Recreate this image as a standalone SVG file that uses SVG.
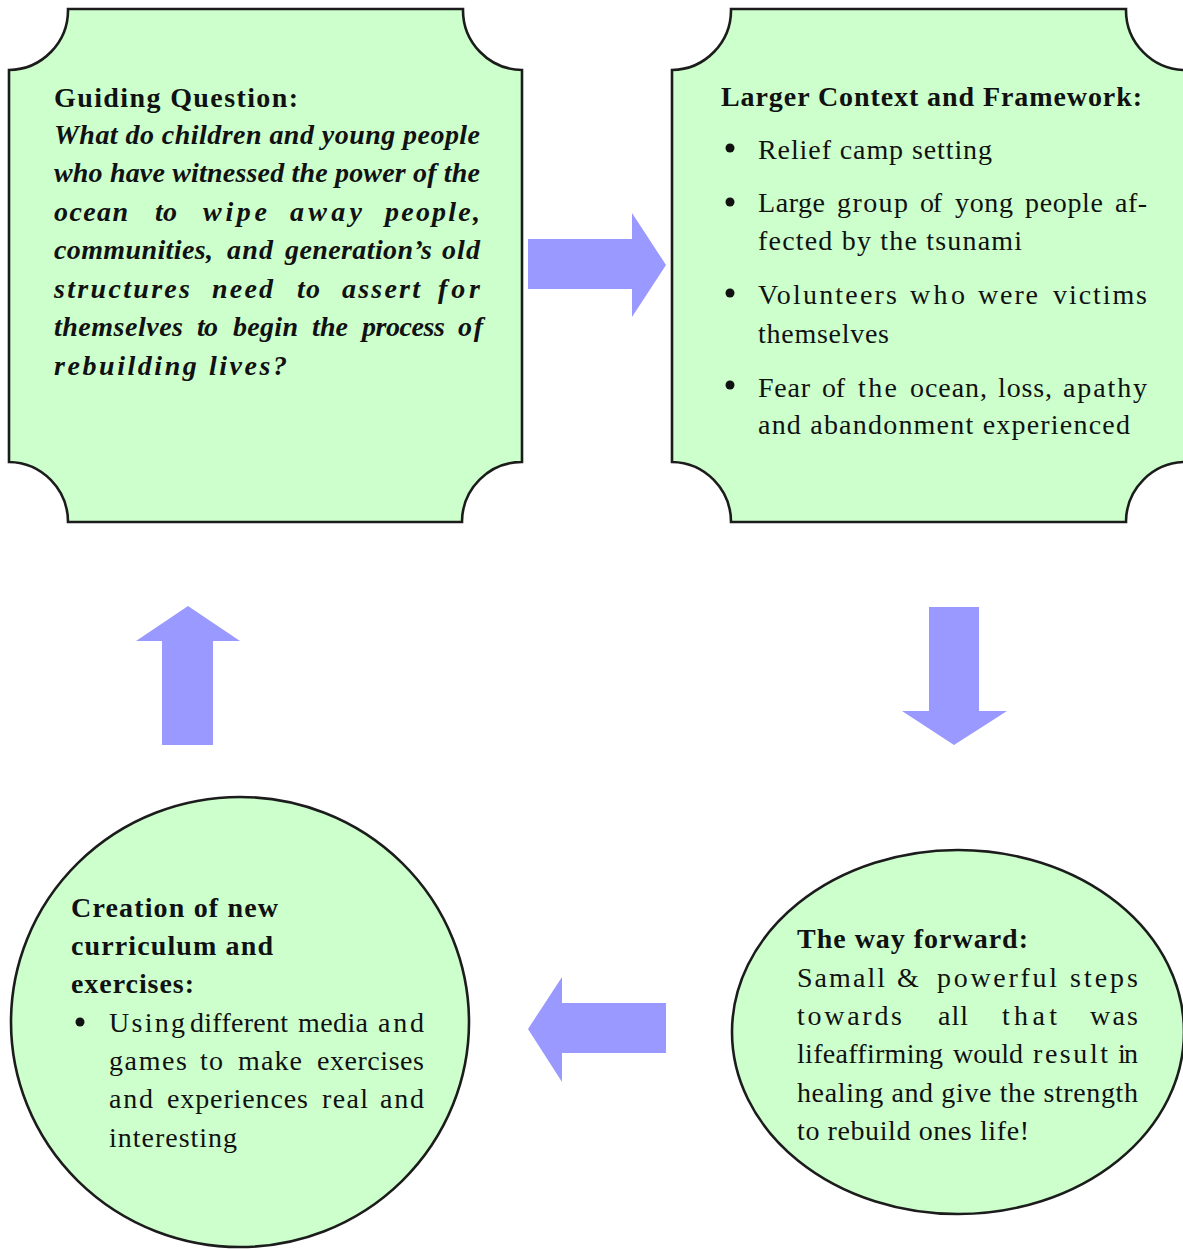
<svg xmlns="http://www.w3.org/2000/svg" width="1183" height="1249" viewBox="0 0 1183 1249">
<style>
.node{fill:#ccffcc;stroke:#1c1c1c;stroke-width:2.6}
.arrow{fill:#9999ff}
.bullet{fill:#111}
text{font-family:"Liberation Serif","Times New Roman",serif;font-size:28px;fill:#111}
.b{font-weight:bold}
.bi{font-weight:bold;font-style:italic}
</style>
<rect width="1183" height="1249" fill="#ffffff"/>
<g id="connectors">
<polygon class="arrow" points="528,239 632,239 632,213 666,265 632,317 632,289 528,289"/>
<polygon class="arrow" points="929,607 979,607 979,711 1007,711 954,745 902,711 929,711"/>
<polygon class="arrow" points="666,1003 562,1003 562,977 528,1029 562,1082 562,1053 666,1053"/>
<polygon class="arrow" points="162,745 162,641 136,641 188,606 240,641 213,641 213,745"/>
</g>
<g id="node-guiding-question">
<path class="node" d="M68,9 L463,9 A60,60 0 0 0 522,70 L522,462 A60,60 0 0 0 462,522 L68,522 A60,60 0 0 0 9,462 L9,70 A60,60 0 0 0 68,9 Z"/>
<text class="b" x="54" y="107" textLength="244" lengthAdjust="spacing">Guiding Question:</text>
<text class="bi" x="54" y="144" textLength="426" lengthAdjust="spacing">What do children and young people</text>
<text class="bi" x="54" y="182" textLength="426" lengthAdjust="spacing">who have witnessed the power of the</text>
<g class="bi">
<text class="bi" x="54" y="221" textLength="74" lengthAdjust="spacing">ocean</text>
<text class="bi" x="155" y="221" textLength="22" lengthAdjust="spacing">to</text>
<text class="bi" x="203" y="221" textLength="64" lengthAdjust="spacing">wipe</text>
<text class="bi" x="290" y="221" textLength="72" lengthAdjust="spacing">away</text>
<text class="bi" x="385" y="221" textLength="95" lengthAdjust="spacing">people,</text>
<text class="bi" x="54" y="259" textLength="159" lengthAdjust="spacing">communities,</text>
<text class="bi" x="227" y="259" textLength="46" lengthAdjust="spacing">and</text>
<text class="bi" x="285" y="259" textLength="147" lengthAdjust="spacing">generation’s</text>
<text class="bi" x="442" y="259" textLength="38" lengthAdjust="spacing">old</text>
<text class="bi" x="54" y="298" textLength="136" lengthAdjust="spacing">structures</text>
<text class="bi" x="212" y="298" textLength="61" lengthAdjust="spacing">need</text>
<text class="bi" x="297" y="298" textLength="23" lengthAdjust="spacing">to</text>
<text class="bi" x="342" y="298" textLength="78" lengthAdjust="spacing">assert</text>
<text class="bi" x="438" y="298" textLength="42" lengthAdjust="spacing">for</text>
<text class="bi" x="54" y="336" textLength="129" lengthAdjust="spacing">themselves</text>
<text class="bi" x="197" y="336" textLength="21" lengthAdjust="spacing">to</text>
<text class="bi" x="233" y="336" textLength="65" lengthAdjust="spacing">begin</text>
<text class="bi" x="312" y="336" textLength="36" lengthAdjust="spacing">the</text>
<text class="bi" x="362" y="336" textLength="83" lengthAdjust="spacing">process</text>
<text class="bi" x="458" y="336" textLength="25" lengthAdjust="spacing">of</text>
</g>
<text class="bi" x="54" y="375" textLength="233" lengthAdjust="spacing">rebuilding lives?</text>
</g>
<g id="node-larger-context">
<path class="node" d="M731,9 L1126,9 A60,60 0 0 0 1186,70 L1186,462 A60,60 0 0 0 1126,522 L731,522 A60,60 0 0 0 672,462 L672,70 A60,60 0 0 0 731,9 Z"/>
<text class="b" x="721" y="106" textLength="421" lengthAdjust="spacing">Larger Context and Framework:</text>
<circle class="bullet" cx="730" cy="148" r="4.5"/>
<text x="758" y="159" textLength="234" lengthAdjust="spacing">Relief camp setting</text>
<circle class="bullet" cx="730" cy="202" r="4.5"/>
<text x="758" y="212" textLength="67" lengthAdjust="spacing">Large</text>
<text x="837" y="212" textLength="71" lengthAdjust="spacing">group</text>
<text x="920" y="212" textLength="22" lengthAdjust="spacing">of</text>
<text x="955" y="212" textLength="58" lengthAdjust="spacing">yong</text>
<text x="1025" y="212" textLength="78" lengthAdjust="spacing">people</text>
<text x="1115" y="212" textLength="32" lengthAdjust="spacing">af-</text>
<text x="758" y="250" textLength="264" lengthAdjust="spacing">fected by the tsunami</text>
<circle class="bullet" cx="730" cy="293" r="4.5"/>
<text x="758" y="304" textLength="139" lengthAdjust="spacing">Volunteers</text>
<text x="910" y="304" textLength="55" lengthAdjust="spacing">who</text>
<text x="978" y="304" textLength="60" lengthAdjust="spacing">were</text>
<text x="1053" y="304" textLength="94" lengthAdjust="spacing">victims</text>
<text x="758" y="343" textLength="131" lengthAdjust="spacing">themselves</text>
<circle class="bullet" cx="730" cy="385" r="4.5"/>
<text x="758" y="397" textLength="52" lengthAdjust="spacing">Fear</text>
<text x="822" y="397" textLength="23" lengthAdjust="spacing">of</text>
<text x="858" y="397" textLength="39" lengthAdjust="spacing">the</text>
<text x="910" y="397" textLength="77" lengthAdjust="spacing">ocean,</text>
<text x="998" y="397" textLength="54" lengthAdjust="spacing">loss,</text>
<text x="1063" y="397" textLength="84" lengthAdjust="spacing">apathy</text>
<text x="758" y="434" textLength="372" lengthAdjust="spacing">and abandonment experienced</text>
</g>
<g id="node-way-forward">
<ellipse class="node" cx="958" cy="1032" rx="226" ry="182"/>
<text class="b" x="797" y="948" textLength="231" lengthAdjust="spacing">The way forward:</text>
<text x="797" y="987" textLength="88" lengthAdjust="spacing">Samall</text>
<text x="897" y="987" textLength="26" lengthAdjust="spacing">&amp;</text>
<text x="937" y="987" textLength="120" lengthAdjust="spacing">powerful</text>
<text x="1070" y="987" textLength="68" lengthAdjust="spacing">steps</text>
<text x="797" y="1025" textLength="105" lengthAdjust="spacing">towards</text>
<text x="938" y="1025" textLength="30" lengthAdjust="spacing">all</text>
<text x="1002" y="1025" textLength="55" lengthAdjust="spacing">that</text>
<text x="1090" y="1025" textLength="48" lengthAdjust="spacing">was</text>
<text x="797" y="1063" textLength="146" lengthAdjust="spacing">lifeaffirming</text>
<text x="953" y="1063" textLength="70" lengthAdjust="spacing">would</text>
<text x="1033" y="1063" textLength="75" lengthAdjust="spacing">result</text>
<text x="1118" y="1063" textLength="20" lengthAdjust="spacing">in</text>
<text x="797" y="1102" textLength="341" lengthAdjust="spacing">healing and give the strength</text>
<text x="797" y="1140" textLength="232" lengthAdjust="spacing">to rebuild ones life!</text>
</g>
<g id="node-creation">
<ellipse class="node" cx="240" cy="1022" rx="229" ry="225"/>
<text class="b" x="71" y="917" textLength="207" lengthAdjust="spacing">Creation of new</text>
<text class="b" x="71" y="955" textLength="202" lengthAdjust="spacing">curriculum and</text>
<text class="b" x="71" y="993" textLength="123" lengthAdjust="spacing">exercises:</text>
<circle class="bullet" cx="80" cy="1022" r="4.5"/>
<text x="109" y="1032" textLength="76" lengthAdjust="spacing">Using</text>
<text x="190" y="1032" textLength="98" lengthAdjust="spacing">different</text>
<text x="298" y="1032" textLength="70" lengthAdjust="spacing">media</text>
<text x="378" y="1032" textLength="46" lengthAdjust="spacing">and</text>
<text x="109" y="1070" textLength="78" lengthAdjust="spacing">games</text>
<text x="200" y="1070" textLength="23" lengthAdjust="spacing">to</text>
<text x="238" y="1070" textLength="64" lengthAdjust="spacing">make</text>
<text x="317" y="1070" textLength="107" lengthAdjust="spacing">exercises</text>
<text x="109" y="1108" textLength="44" lengthAdjust="spacing">and</text>
<text x="167" y="1108" textLength="141" lengthAdjust="spacing">experiences</text>
<text x="322" y="1108" textLength="46" lengthAdjust="spacing">real</text>
<text x="380" y="1108" textLength="44" lengthAdjust="spacing">and</text>
<text x="109" y="1147" textLength="128" lengthAdjust="spacing">interesting</text>
</g>
</svg>
